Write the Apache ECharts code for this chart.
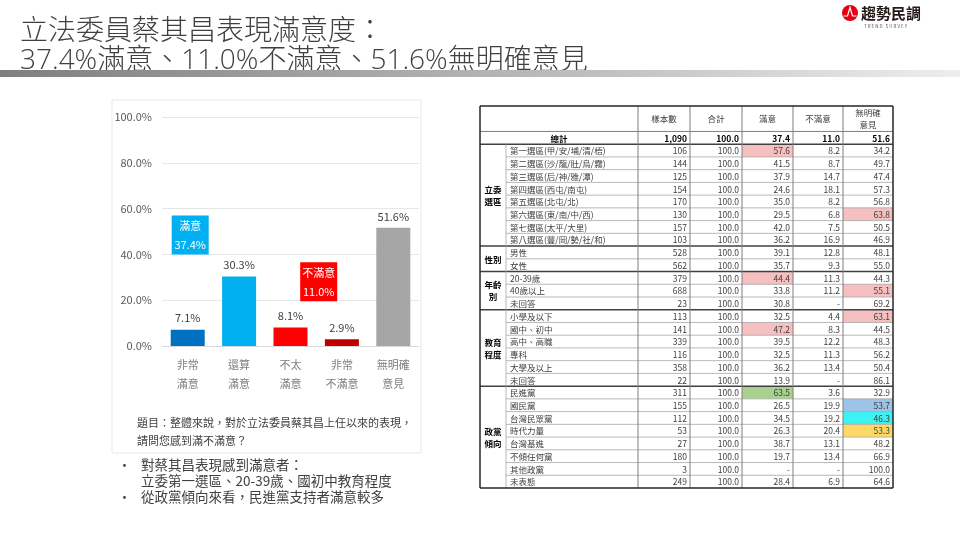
<!DOCTYPE html>
<html><head><meta charset="utf-8">
<script src="https://cdn.jsdelivr.net/npm/echarts@6/dist/echarts.min.js"></script>
<style>html,body{margin:0;padding:0;background:#fff}#c{width:960px;height:540px}</style>
</head><body><div id="c"></div>
<script>
// ---------------- data ----------------
const titleLine1 = '立法委員蔡其昌表現滿意度：';
const titleLine2 = '37.4%滿意、11.0%不滿意、51.6%無明確意見';
const barCategories = ['非常\n滿意', '還算\n滿意', '不太\n滿意', '非常\n不滿意', '無明確\n意見'];
const barValues = [7.1, 30.3, 8.1, 2.9, 51.6];
const summaryLabels = ['滿意', '不滿意'];
const summaryValues = [37.4, 11.0];
const questionLines = ['題目：整體來說，對於立法委員蔡其昌上任以來的表現，', '請問您感到滿不滿意？'];
const bulletItems = [['對蔡其昌表現感到滿意者：', '立委第一選區、20-39歲、國初中教育程度'], ['從政黨傾向來看，民進黨支持者滿意較多']];

const tableHeaders = ['樣本數', '合計', '滿意', '不滿意', '無明確\n意見'];
const totalLabel = '總計';
const totalValues = ['1,090', '100.0', '37.4', '11.0', '51.6'];
const groupNames = ['立委\n選區', '性別', '年齡\n別', '教育\n程度', '政黨\n傾向'];

const districtLabels = ['第一選區(甲/安/埔/清/梧)', '第二選區(沙/龍/肚/烏/霧)', '第三選區(后/神/雅/潭)', '第四選區(西屯/南屯)', '第五選區(北屯/北)', '第六選區(東/南/中/西)', '第七選區(太平/大里)', '第八選區(豐/岡/勢/社/和)'];
const districtValues = [
  ['106', '100.0', '57.6', '8.2', '34.2'],
  ['144', '100.0', '41.5', '8.7', '49.7'],
  ['125', '100.0', '37.9', '14.7', '47.4'],
  ['154', '100.0', '24.6', '18.1', '57.3'],
  ['170', '100.0', '35.0', '8.2', '56.8'],
  ['130', '100.0', '29.5', '6.8', '63.8'],
  ['157', '100.0', '42.0', '7.5', '50.5'],
  ['103', '100.0', '36.2', '16.9', '46.9']
];
const genderLabels = ['男性', '女性'];
const genderValues = [
  ['528', '100.0', '39.1', '12.8', '48.1'],
  ['562', '100.0', '35.7', '9.3', '55.0']
];
const ageLabels = ['20-39歲', '40歲以上', '未回答'];
const ageValues = [
  ['379', '100.0', '44.4', '11.3', '44.3'],
  ['688', '100.0', '33.8', '11.2', '55.1'],
  ['23', '100.0', '30.8', '-', '69.2']
];
const eduLabels = ['小學及以下', '國中、初中', '高中、高職', '專科', '大學及以上', '未回答'];
const eduValues = [
  ['113', '100.0', '32.5', '4.4', '63.1'],
  ['141', '100.0', '47.2', '8.3', '44.5'],
  ['339', '100.0', '39.5', '12.2', '48.3'],
  ['116', '100.0', '32.5', '11.3', '56.2'],
  ['358', '100.0', '36.2', '13.4', '50.4'],
  ['22', '100.0', '13.9', '-', '86.1']
];
const partyLabels = ['民進黨', '國民黨', '台灣民眾黨', '時代力量', '台灣基進', '不傾任何黨', '其他政黨', '未表態'];
const partyValues = [
  ['311', '100.0', '63.5', '3.6', '32.9'],
  ['155', '100.0', '26.5', '19.9', '53.7'],
  ['112', '100.0', '34.5', '19.2', '46.3'],
  ['53', '100.0', '26.3', '20.4', '53.3'],
  ['27', '100.0', '38.7', '13.1', '48.2'],
  ['180', '100.0', '19.7', '13.4', '66.9'],
  ['3', '100.0', '-', '-', '100.0'],
  ['249', '100.0', '28.4', '6.9', '64.6']
];

// ---------------- styles / layout ----------------
const FONT = '"Noto Sans CJK TC", "Noto Sans", sans-serif';
const TITLE_FONT = '"Open Sans", "Noto Sans CJK TC", sans-serif';
const barColors = ['#0070C0', '#00B0F0', '#FF0000', '#C00000', '#A6A6A6'];
const summaryColors = ['#00B0F0', '#FF0000'];
const PINK = '#F7C0C0', GREEN = '#A9D18E', LBLUE = '#9DC3E6', CYAN = '#3CF2F2', ORANGE = '#FFD966';
const highlights = {
  '0-0-2': PINK, '0-5-4': PINK, '2-0-2': PINK, '2-1-4': PINK, '3-0-4': PINK, '3-1-2': PINK,
  '4-0-2': GREEN, '4-1-4': LBLUE, '4-2-4': CYAN, '4-3-4': ORANGE
};
const COLX = [0, 26, 158, 210, 262, 313, 363, 413];

const groups = [
  { name: groupNames[0], labels: districtLabels, values: districtValues },
  { name: groupNames[1], labels: genderLabels, values: genderValues },
  { name: groupNames[2], labels: ageLabels, values: ageValues },
  { name: groupNames[3], labels: eduLabels, values: eduValues },
  { name: groupNames[4], labels: partyLabels, values: partyValues }
];

// build table cells and lines
const cells = [];
const lines = [];
const W = COLX[COLX.length - 1];
cells.push({ x0: 0, x1: COLX[2], y0: 0, y1: 2, text: '' });
tableHeaders.forEach((h, j) => cells.push({ x0: COLX[j + 2], x1: COLX[j + 3], y0: 0, y1: 2, text: h, align: 'center' }));
cells.push({ x0: 0, x1: COLX[2], y0: 2, y1: 3, text: totalLabel, align: 'center', bold: true });
totalValues.forEach((v, j) => cells.push({ x0: COLX[j + 2], x1: COLX[j + 3], y0: 2, y1: 3, text: v, align: 'right', bold: true }));
let r = 3;
const groupEnds = [];
groups.forEach((g, gi) => {
  const n = g.labels.length;
  cells.push({ x0: 0, x1: COLX[1], y0: r, y1: r + n, text: g.name, align: 'center', bold: true });
  g.labels.forEach((lab, ri) => {
    const y = r + ri;
    cells.push({ x0: COLX[1], x1: COLX[2], y0: y, y1: y + 1, text: lab, align: 'left' });
    g.values[ri].forEach((v, j) => cells.push({
      x0: COLX[j + 2], x1: COLX[j + 3], y0: y, y1: y + 1, text: v, align: 'right',
      fill: highlights[gi + '-' + ri + '-' + j]
    }));
    if (ri > 0) lines.push({ x0: COLX[1], y0: y, x1: W, y1: y, kind: 'thin' });
  });
  r += n;
  groupEnds.push(r);
});
const ROWS = r;
lines.push({ x0: 0, y0: 2, x1: W, y1: 2, kind: 'mid' });
lines.push({ x0: 0, y0: 3, x1: W, y1: 3, kind: 'dark' });
groupEnds.slice(0, -1).forEach(y => lines.push({ x0: 0, y0: y, x1: W, y1: y, kind: 'dark' }));
lines.push({ x0: COLX[1], y0: 3, x1: COLX[1], y1: ROWS, kind: 'thin' });
for (let k = 2; k < COLX.length - 1; k++) lines.push({ x0: COLX[k], y0: 0, x1: COLX[k], y1: ROWS, kind: 'mid' });
lines.push({ x0: 0, y0: 0, x1: W, y1: 0, kind: 'border' });
lines.push({ x0: 0, y0: ROWS, x1: W, y1: ROWS, kind: 'border' });
lines.push({ x0: 0, y0: 0, x1: 0, y1: ROWS, kind: 'border' });
lines.push({ x0: W, y0: 0, x1: W, y1: ROWS, kind: 'border' });
const lineStyles = {
  thin: { stroke: '#a6a6a6', lineWidth: 0.8 },
  mid: { stroke: '#7f7f7f', lineWidth: 1 },
  dark: { stroke: '#404040', lineWidth: 1.5 },
  border: { stroke: '#262626', lineWidth: 1.5 }
};

// ---------------- chart ----------------
const chart = echarts.init(document.getElementById('c'));
const txt = (x, y, text, size, color, extra) => Object.assign({
  type: 'text', x: x, y: y, silent: true,
  style: Object.assign({ text: text, font: size + 'px ' + FONT, fill: color, textAlign: 'left', textVerticalAlign: 'middle' }, extra || {})
});

const graphics = [
  txt(20, 32, titleLine1, 28, '#404040', { font: '300 28px ' + TITLE_FONT }),
  txt(20, 61, titleLine2, 28, '#404040', { font: '300 28px ' + TITLE_FONT }),
  {
    type: 'rect', shape: { x: 0, y: 70, width: 960, height: 7 }, silent: true,
    style: { fill: new echarts.graphic.LinearGradient(0, 0, 1, 0, [{ offset: 0, color: '#7f7f7f' }, { offset: 0.6, color: '#bdbdbd' }, { offset: 1, color: '#eeeeee' }]) }
  },
  { type: 'rect', z: -10, shape: { x: 112, y: 100, width: 309, height: 353 }, silent: true, style: { fill: '#fff', stroke: '#e8e8e8', lineWidth: 1 } },
  txt(137, 423, questionLines[0], 11, '#404040'),
  txt(137, 441, questionLines[1], 11, '#404040'),
  { type: 'circle', shape: { cx: 850, cy: 13, r: 8 }, silent: true, style: { fill: '#E50012' } },
  { type: 'polyline', shape: { points: [[843.5, 16], [847.5, 16], [850, 7.5], [852.5, 16], [856.5, 16]] }, silent: true, style: { stroke: '#fff', lineWidth: 1.2, fill: null } },
  txt(861, 13, '趨勢民調', 15, '#231815', { font: 'bold 15px ' + FONT }),
  txt(864, 26, 'T R E N D   S U R V E Y', 4.5, '#555555')
];
let by = 465;
bulletItems.forEach(item => {
  graphics.push(txt(118, by, '•', 13, '#404040'));
  item.forEach(line => { graphics.push(txt(141, by, line, 13.5, '#404040')); by += 16; });
});

const summaryAnchorCats = [[0, 0], [2, 3]];
const summaryBottom = [40, 19.5];

chart.setOption({
  animation: false,
  graphic: { elements: graphics },
  grid: [
    { left: 162, width: 257, top: 117, height: 229 },
    { left: 480, width: W, top: 106, height: 382 }
  ],
  xAxis: [
    {
      type: 'category', gridIndex: 0, data: barCategories,
      axisLine: { lineStyle: { color: '#d9d9d9' } }, axisTick: { show: false },
      axisLabel: { color: '#7f7f7f', fontSize: 11, lineHeight: 19, margin: 9, fontFamily: FONT }
    },
    { type: 'value', gridIndex: 1, min: 0, max: W, show: false }
  ],
  yAxis: [
    {
      type: 'value', gridIndex: 0, min: 0, max: 100, interval: 20,
      axisLine: { show: false }, axisTick: { show: false },
      splitLine: { lineStyle: { color: '#e6e6e6' } },
      axisLabel: { formatter: v => v.toFixed(1) + '%', color: '#595959', fontSize: 11, margin: 10, fontFamily: FONT }
    },
    { type: 'value', gridIndex: 1, min: 0, max: ROWS, inverse: true, show: false }
  ],
  series: [
    {
      type: 'bar', xAxisIndex: 0, yAxisIndex: 0, barWidth: 34,
      data: barValues.map((v, i) => ({ value: v, itemStyle: { color: barColors[i] } })),
      label: { show: true, position: 'top', distance: 6, formatter: p => p.value.toFixed(1) + '%', color: '#404040', fontSize: 11, fontFamily: FONT }
    },
    {
      type: 'custom', xAxisIndex: 0, yAxisIndex: 0, z: 5,
      data: summaryValues.map((v, i) => [i, v]),
      renderItem: (params, api) => {
        const i = params.dataIndex;
        const cats = summaryAnchorCats[i];
        const a = api.coord([cats[0], summaryBottom[i]]);
        const b = api.coord([cats[1], summaryBottom[i]]);
        const cx = (a[0] + b[0]) / 2 + 2.5;
        const bottom = a[1];
        const w = 37, h = 39;
        return {
          type: 'group', children: [
            { type: 'rect', shape: { x: cx - w / 2, y: bottom - h, width: w, height: h }, style: { fill: summaryColors[i] } },
            { type: 'text', x: cx, y: bottom - h + 10, style: { text: summaryLabels[i], font: '11px ' + FONT, fill: '#fff', textAlign: 'center', textVerticalAlign: 'middle' } },
            { type: 'text', x: cx, y: bottom - h + 29, style: { text: api.value(1).toFixed(1) + '%', font: '11px ' + FONT, fill: '#fff', textAlign: 'center', textVerticalAlign: 'middle' } }
          ]
        };
      }
    },
    {
      type: 'custom', xAxisIndex: 1, yAxisIndex: 1, z: 2,
      data: cells.map(c => [c.x0, c.y0, c.x1, c.y1]),
      renderItem: (params, api) => {
        const c = cells[params.dataIndex];
        const p0 = api.coord([api.value(0), api.value(1)]);
        const p1 = api.coord([api.value(2), api.value(3)]);
        const children = [];
        if (c.fill) children.push({ type: 'rect', shape: { x: p0[0], y: p0[1], width: p1[0] - p0[0], height: p1[1] - p0[1] }, style: { fill: c.fill } });
        if (c.text) {
          let x = (p0[0] + p1[0]) / 2;
          if (c.align === 'left') x = p0[0] + 4;
          if (c.align === 'right') x = p1[0] - 3;
          children.push({
            type: 'text', x: x, y: (p0[1] + p1[1]) / 2 + 0.5,
            style: {
              text: c.text, font: (c.bold ? 'bold ' : '') + '8.5px ' + FONT, fill: c.bold ? '#000' : '#404040',
              textAlign: c.align || 'center', textVerticalAlign: 'middle', lineHeight: 12
            }
          });
        }
        return { type: 'group', children: children };
      }
    },
    {
      type: 'custom', xAxisIndex: 1, yAxisIndex: 1, z: 4,
      data: lines.map(l => [l.x0, l.y0, l.x1, l.y1]),
      renderItem: (params, api) => {
        const l = lines[params.dataIndex];
        const p0 = api.coord([api.value(0), api.value(1)]);
        const p1 = api.coord([api.value(2), api.value(3)]);
        return { type: 'line', shape: { x1: p0[0], y1: p0[1], x2: p1[0], y2: p1[1] }, style: lineStyles[l.kind] };
      }
    }
  ]
});
</script>
</body></html>
